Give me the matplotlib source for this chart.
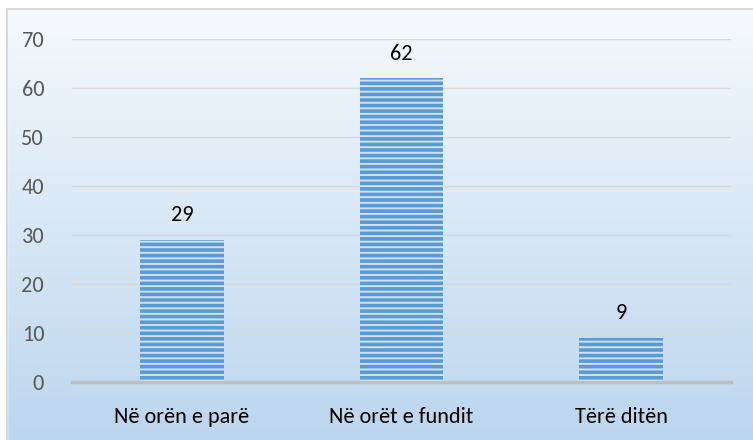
import numpy as np
import matplotlib.pyplot as plt
from matplotlib.patches import Rectangle
from matplotlib.colors import LinearSegmentedColormap

categories = ['Në orën e parë', 'Në orët e fundit', 'Tërë ditën']
values = [29, 62, 9]
yticks = [0, 10, 20, 30, 40, 50, 60, 70]

plt.rcParams['font.family'] = ['Carlito', 'Lato', 'DejaVu Sans']
plt.rcParams['hatch.linewidth'] = 1.4

fig = plt.figure(figsize=(7.53, 4.40), dpi=100)

# gradient background inside the chart frame
bg = fig.add_axes([0, 0, 1, 1], zorder=-1)
grad = np.linspace(0, 1, 256).reshape(-1, 1)
cmap = LinearSegmentedColormap.from_list('bg', ['#f7fafd', '#bcd6ee'])
bg.imshow(grad, aspect='auto', cmap=cmap, extent=[0, 1, 0, 1], origin='upper')
bg.add_patch(Rectangle((7 / 753, -0.01), 1.0, 1 - 9 / 440 + 0.01, fill=False,
                       edgecolor='#d9d9d9', linewidth=1.5))
bg.set_xlim(0, 1)
bg.set_ylim(0, 1)
bg.axis('off')
bg.add_patch(Rectangle((0, 0), 7 / 753, 1, color='white', zorder=0.5))
bg.add_patch(Rectangle((0, 1 - 9 / 440), 1, 9 / 440, color='white', zorder=0.5))

ax = fig.add_axes([72 / 753, 58 / 440, 659 / 753, 343 / 440])
ax.patch.set_alpha(0)
x = np.arange(len(categories))
bars = ax.bar(x, values, width=0.38, color='#5b9bd5', edgecolor='#cfe1f2',
              hatch='---', linewidth=0, zorder=3)
for b, v in zip(bars, values):
    ax.text(b.get_x() + b.get_width() / 2, v + 3.0, str(v), ha='center', va='bottom',
            fontsize=16, color='black')

ax.set_xlim(-0.5, 2.5)
ax.set_ylim(0, 70)
ax.set_yticks(yticks)
ax.set_xticks(x)
ax.set_xticklabels(categories, fontsize=16, color='black')
ax.tick_params(axis='y', labelsize=16, labelcolor='#595959', length=0, pad=20)
ax.tick_params(axis='x', length=0, pad=18)
ax.grid(axis='y', color='#d9d9d9', linewidth=1, zorder=0)
for s in ['top', 'right', 'left']:
    ax.spines[s].set_visible(False)
ax.spines['bottom'].set_color('#bfbfbf')
ax.spines['bottom'].set_linewidth(2.5)
ax.spines['bottom'].set_zorder(4)

plt.savefig('out.png', dpi=100)
